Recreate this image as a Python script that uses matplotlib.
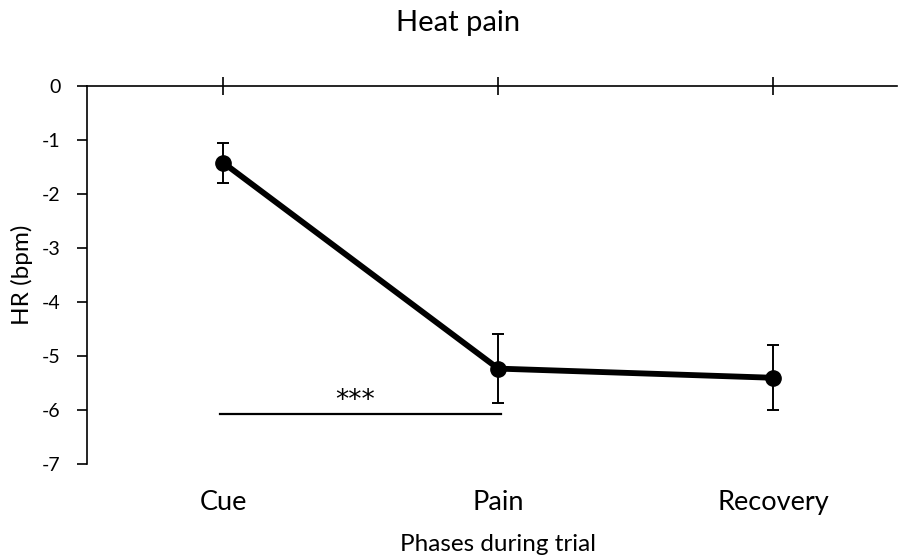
import matplotlib.pyplot as plt

# Данные
phases = ['Cue', 'Pain', 'Recovery']
hr_mean = [-1.42, -5.23, -5.40]
hr_err = [0.37, 0.64, 0.60]
yticks = [0, -1, -2, -3, -4, -5, -6, -7]
sig_pair = (0, 1)
sig_level = -6.07
sig_label = '***'

plt.rcParams['font.family'] = ['Lato', 'DejaVu Sans']

fig = plt.figure(figsize=(9, 5.58), dpi=100)
ax = fig.add_axes([0.0967, 0.168, 0.9, 0.678])

x = list(range(len(phases)))
ax.errorbar(x, hr_mean, yerr=hr_err, color='black', linewidth=4.2,
            marker='o', markersize=11, ecolor='black', elinewidth=1.4,
            capsize=4.5, capthick=1.4, zorder=3)

# Линия значимости
ax.plot([x[sig_pair[0]] - 0.01, x[sig_pair[1]] + 0.01], [sig_level, sig_level],
        color='black', linewidth=1.6)
ax.text((x[sig_pair[0]] + x[sig_pair[1]]) / 2 - 0.02, sig_level + 0.11, sig_label,
        ha='center', va='baseline', fontsize=19, family='DejaVu Sans')

ax.set_xlim(-0.495, 2.45)
ax.set_ylim(-7, 0)
ax.set_yticks(yticks)
ax.set_yticklabels([str(v) for v in yticks], fontsize=14)

ax.spines['right'].set_visible(False)
ax.spines['bottom'].set_visible(False)
ax.spines['top'].set_linewidth(1.2)
ax.spines['left'].set_linewidth(1.2)

ax.set_xticks(x)
ax.set_xticklabels(phases, fontsize=19.5)
ax.tick_params(axis='x', bottom=False, top=True, labelbottom=True,
               direction='inout', length=13, width=1.2, pad=12)
ax.tick_params(axis='y', direction='out', length=7, width=1.2, pad=12)

fig.text(0.024, 0.507, 'HR (bpm)', rotation=90, ha='center', va='center', fontsize=17.5)
fig.text(0.553, 0.025, 'Phases during trial', ha='center', va='center', fontsize=17.5)
fig.text(0.509, 0.959, 'Heat pain', ha='center', va='center', fontsize=21)

fig.savefig('out.png', dpi=100)
